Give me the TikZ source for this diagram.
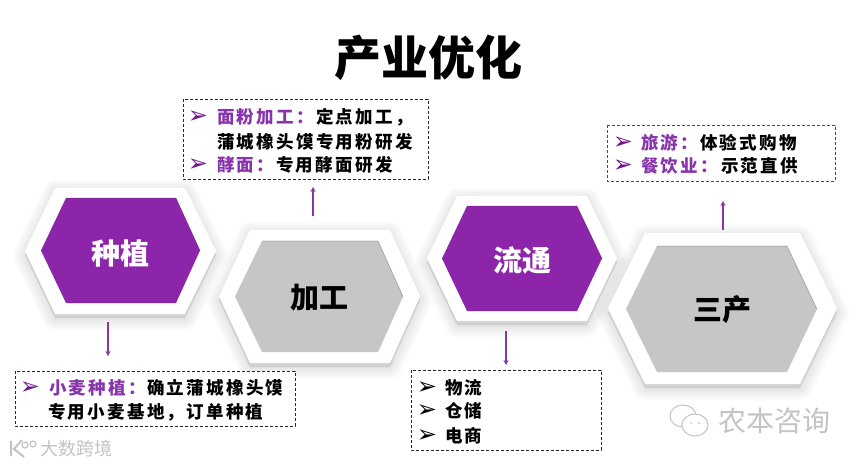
\documentclass[tikz,border=0pt]{standalone}
\usepackage{fontspec}
\newfontfamily\cjk[LetterSpace=13]{Noto Sans CJK SC}
\newfontfamily\cjkplain{Noto Sans CJK SC}
\newfontfamily\sym{DejaVu Sans}
\usetikzlibrary{arrows.meta}
\definecolor{hexpurple}{RGB}{141,37,170}
\definecolor{txtpurple}{RGB}{136,52,170}
\definecolor{bulpurple}{RGB}{110,20,140}
\definecolor{hexgrey}{RGB}{198,198,198}
\definecolor{wmgrey}{RGB}{195,195,195}
\tikzset{
  bodytext/.style={inner sep=0pt,anchor=west,font=\cjk\bfseries\fontsize{17.5}{19}\selectfont,text=black},
  lead/.style={bodytext,text=txtpurple},
  bullet/.style={inner sep=0pt,anchor=center,font=\sym\bfseries\fontsize{24}{26}\selectfont,text=black},
  pbullet/.style={bullet,text=bulpurple},
  dashbox/.style={draw=black!85,line width=0.8pt,dash pattern=on 3pt off 2pt,fill=white},
  hexlabel/.style={inner sep=0pt,font=\cjkplain\bfseries\fontsize{29}{31}\selectfont},
  flow/.style={draw=txtpurple,line width=1.2pt,-{Stealth[length=5pt,width=5pt]}},
  wm/.style={inner sep=0pt,text=wmgrey,font=\cjkplain\fontsize{28}{30}\selectfont}
}
\newcommand{\hexshape}[7]{%
  % #1 left #2 corner-left #3 corner-right #4 right #5 top #6 bottom #7 options
  \path[#7] (#1,{(#5+#6)/2}) -- (#2,#5) -- (#3,#5) -- (#4,{(#5+#6)/2}) -- (#3,#6) -- (#2,#6) -- cycle;
}
\begin{document}
\begin{tikzpicture}[x=1pt,y=-1pt]
\useasboundingbox (0,0) rectangle (856,465);
\fill[white] (0,0) rectangle (856,465);

% hexagons: soft shadow, white frame, coloured face
\foreach \L/\CL/\CR/\R/\T/\B/\l/\cl/\cr/\r/\t/\b/\col in {
  25/55/185/216/188/314/41/66/176/200/198/303/hexpurple,
  219/250/390/420/230/363/235/262/378/403/241/352/hexgrey,
  427/457/587/617/196/321/442/467/577/602/206/311/hexpurple,
  608/645/800/837/233/384/626/657/787/817/246/372/hexgrey}{
  \foreach \w in {24,20,16,12,8,4}{
    \hexshape{\L}{\CL}{\CR}{\R}{\T+4}{\B+4}{draw=black,fill=black,opacity=0.014,line width=\w pt,line join=round}
  }
  \hexshape{\L}{\CL}{\CR}{\R}{\T}{\B}{fill=white}
  \hexshape{\l}{\cl}{\cr}{\r}{\t}{\b}{fill=\col}
  \draw[black,opacity=0.22,line width=0.8pt] (\cl,\t) -- (\cr,\t) -- (\r,{(\t+\b)/2});
}

% title
\node[inner sep=0pt,font=\cjkplain\bfseries\fontsize{47}{50}\selectfont] (title) at (428,58) {产业优化};

% hexagon labels
\node[hexlabel,text=white] (zhongzhi) at (120,253) {种植};
\node[hexlabel,text=black] (jiagong) at (319,298) {加工};
\node[hexlabel,text=white] (liutong) at (522,260) {流通};
\node[hexlabel,text=black] (sanchan) at (722,310) {三产};

% dashed boxes
\draw[dashbox] (183,99) rectangle (428,179);
\draw[dashbox,draw=black!70] (607,125) rectangle (835,181);
\draw[dashbox] (15,371) rectangle (295,426);
\draw[dashbox] (411,370) rectangle (601,450);

% box 面粉
\node[pbullet] (b1) at (198,117) {➢};
\node[lead] (t1a) at (217,117) {面粉加工：};
\node[bodytext] (t1b) at (316,117) {定点加工，};
\node[bodytext] (t1c) at (217,142) {蒲城橡头馍专用粉研发};
\node[pbullet] (b2) at (198,165) {➢};
\node[lead] (t2a) at (217,165) {酵面：};
\node[bodytext] (t2b) at (276,165) {专用酵面研发};

% box 旅游
\node[pbullet] (b3) at (623,143) {➢};
\node[lead] (t3a) at (641,143) {旅游：};
\node[bodytext] (t3b) at (700,143) {体验式购物};
\node[pbullet] (b4) at (623,166) {➢};
\node[lead] (t4a) at (641,166) {餐饮业：};
\node[bodytext] (t4b) at (721,166) {示范直供};

% box 小麦
\node[pbullet] (b5) at (30,388) {➢};
\node[lead] (t5a) at (49,388) {小麦种植：};
\node[bodytext] (t5b) at (147,388) {确立蒲城橡头馍};
\node[bodytext] (t5c) at (48,412) {专用小麦基地，订单种植};

% box 物流
\node[bullet] (b6) at (427,388) {➢};
\node[bodytext] (t6) at (445,388) {物流};
\node[bullet] (b7) at (427,411) {➢};
\node[bodytext] (t7) at (445,411) {仓储};
\node[bullet] (b8) at (427,436) {➢};
\node[bodytext] (t8) at (445,436) {电商};

% arrows
\coordinate (a1s) at (108,322); \coordinate (a1e) at (108,356);
\coordinate (a2s) at (313,216); \coordinate (a2e) at (313,187);
\coordinate (a3s) at (506,331); \coordinate (a3e) at (506,365);
\coordinate (a4s) at (723,230); \coordinate (a4e) at (723,201);
\draw[flow] (a1s) -- (a1e);
\draw[flow] (a2s) -- (a2e);
\draw[flow] (a3s) -- (a3e);
\draw[flow] (a4s) -- (a4e);

% watermarks
\node[wm,font=\cjkplain\fontsize{18}{20}\selectfont] (wm1) at (76,449) {大数跨境};
\draw[wmgrey,line width=2pt] (11,441) -- (11,456) (22,440) -- (14,449) -- (24,457);
\draw[wmgrey,line width=1.2pt] (25,445) circle (3pt) (33,444) circle (3pt);
\node[wm] (wm2) at (774,421) {农本咨询};
\draw[wmgrey,line width=1pt,fill=white] (683,416) ellipse (13pt and 11pt);
\draw[wmgrey,line width=1pt,fill=white] (695,425) ellipse (13pt and 11pt);
\fill[wmgrey] (691,423) circle (1pt) (699,423) circle (1pt);
\end{tikzpicture}
\end{document}
